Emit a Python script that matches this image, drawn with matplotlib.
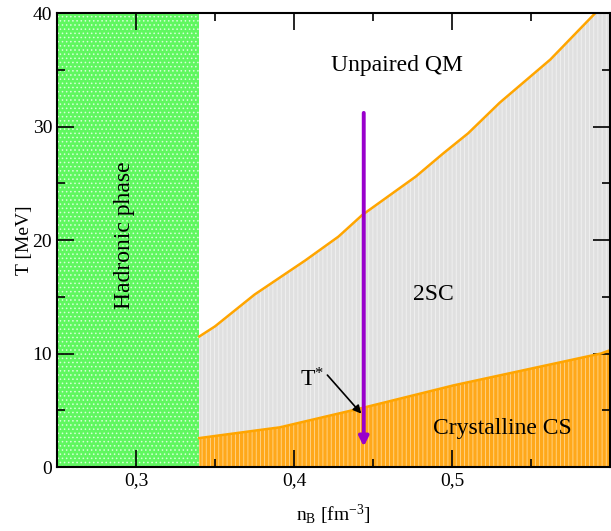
import numpy as np
import matplotlib.pyplot as plt
from matplotlib.ticker import MultipleLocator, FuncFormatter

plt.rcParams['font.family'] = ['Liberation Serif', 'DejaVu Serif']
plt.rcParams['mathtext.fontset'] = 'custom'
plt.rcParams['mathtext.rm'] = 'Liberation Serif'
plt.rcParams['mathtext.it'] = 'Liberation Serif:italic'
plt.rcParams['hatch.linewidth'] = 0.6

# phase boundaries
n_hadron = 0.34
n_upper = [0.34, 0.35, 0.375, 0.407, 0.428, 0.443, 0.456, 0.467, 0.477,
           0.494, 0.51, 0.53, 0.562, 0.5905, 0.60]
T_upper = [11.5, 12.4, 15.2, 18.2, 20.3, 22.2, 23.5, 24.6, 25.6,
           27.6, 29.4, 32.1, 35.9, 40.0, 41.2]
n_lower = [0.34, 0.391, 0.443, 0.501, 0.594, 0.60]
T_lower = [2.55, 3.5, 5.2, 7.2, 10.0, 10.3]

n_star = 0.444
T_arrow = [31.2, 1.8]

fig = plt.figure(figsize=(6.11, 5.31), dpi=100)
ax = fig.add_axes([0.0933, 0.1205, 0.9057, 0.855])

# hadronic phase
ax.fill_between([0.25, n_hadron], 0, 40, facecolor='#60f760',
                edgecolor='#d8ffd8', hatch='....', linewidth=0, zorder=1)
# 2SC (grey) between lower and upper curve
x = np.array(n_upper)
ax.fill_between(n_upper, np.interp(x, n_lower, T_lower), T_upper,
                facecolor='#e0e0e0', edgecolor='#f2f2f2', hatch='||||',
                linewidth=0, zorder=1)
# crystalline CS
ax.fill_between(n_lower, 0, T_lower, facecolor='#ffa81a',
                edgecolor='#ffd890', hatch='||||', linewidth=0, zorder=1)
ax.plot(n_upper, T_upper, color='#ffa500', lw=1.8, zorder=3)
ax.plot(n_lower, T_lower, color='#ffa500', lw=1.8, zorder=3)

# purple arrow (T* cut)
ax.annotate('', xy=(n_star, T_arrow[1]), xytext=(n_star, T_arrow[0]),
            arrowprops=dict(arrowstyle='-|>', color='#9900cc', lw=2.8,
                            mutation_scale=14, shrinkA=0, shrinkB=0),
            zorder=5)
ax.annotate('', xy=(0.4425, 4.7), xytext=(0.421, 8.1),
            arrowprops=dict(arrowstyle='-|>', color='black', lw=1.2,
                            mutation_scale=12, shrinkA=0, shrinkB=0),
            zorder=5)

ax.text(0.411, 7.7, r'T$^{*}$', fontsize=17, ha='center', va='center')
ax.text(0.465, 35.4, 'Unpaired QM', fontsize=17, ha='center', va='center')
ax.text(0.488, 15.2, '2SC', fontsize=17, ha='center', va='center')
ax.text(0.532, 3.4, 'Crystalline CS', fontsize=17, ha='center', va='center')
ax.text(0.293, 20.4, 'Hadronic phase', fontsize=17, ha='center',
        va='center', rotation=90)

ax.set_xlim(0.25, 0.6)
ax.set_ylim(0, 40)
ax.xaxis.set_major_locator(MultipleLocator(0.1))
ax.xaxis.set_minor_locator(MultipleLocator(0.05))
ax.yaxis.set_major_locator(MultipleLocator(10))
ax.yaxis.set_minor_locator(MultipleLocator(5))
ax.xaxis.set_major_formatter(
    FuncFormatter(lambda v, p: '' if v > 0.55 else f'{v:.1f}'.replace('.', ',')))
ax.tick_params(which='both', direction='in', top=True, right=True,
               labelsize=14, width=1.2)
ax.tick_params(which='major', length=12)
ax.tick_params(which='minor', length=6)
for s in ax.spines.values():
    s.set_linewidth(1.5)
    s.set_zorder(6)
ax.set_axisbelow(False)

ax.set_xlabel(r'n$_\mathrm{B}$ [fm$^\mathrm{-3}$]', fontsize=14, labelpad=10)
ax.set_ylabel('T [MeV]', fontsize=14, labelpad=0)

plt.savefig('out.png', dpi=100)
